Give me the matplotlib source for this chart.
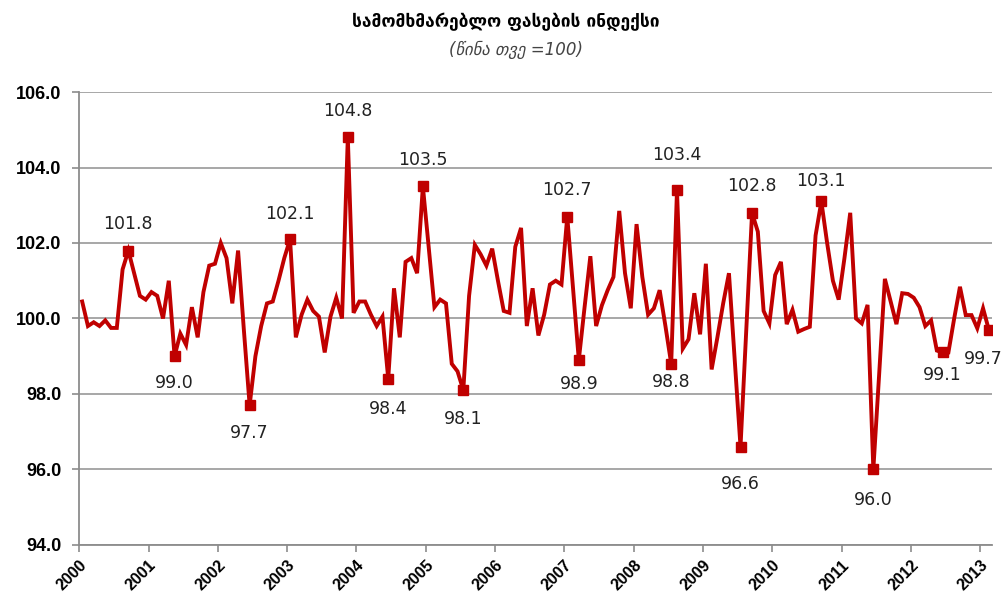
import matplotlib
matplotlib.use("Agg")
import matplotlib.pyplot as plt

# monthly CPI, previous month = 100, Jan 2000 .. Feb 2013
cpi = [
    100.45, 99.8, 99.9, 99.8, 99.95, 99.75, 99.75, 101.3, 101.8, 101.2,
    100.6, 100.5, 100.7, 100.6, 100.0, 101.0, 99.0, 99.6, 99.3, 100.3,
    99.5, 100.7, 101.4, 101.45, 102.0, 101.6, 100.4, 101.8, 99.7, 97.7,
    99.0, 99.8, 100.4, 100.45, 101.0, 101.6, 102.1, 99.5, 100.1, 100.5,
    100.2, 100.05, 99.1, 100.05, 100.55, 100.0, 104.8, 100.15, 100.45, 100.45,
    100.1, 99.8, 100.05, 98.4, 100.8, 99.5, 101.5, 101.6, 101.2, 103.5,
    101.9, 100.3, 100.5, 100.4, 98.8, 98.6, 98.1, 100.6, 101.95, 101.7,
    101.4, 101.85, 101.0, 100.2, 100.15, 101.9, 102.4, 99.8, 100.8, 99.55,
    100.1, 100.9, 101.0, 100.9, 102.7, 100.8, 98.9, 100.3, 101.65, 99.8,
    100.35, 100.75, 101.1, 102.85, 101.2, 100.27, 102.5, 101.1, 100.1, 100.27,
    100.75, 99.8, 98.8, 103.4, 99.2, 99.45, 100.67, 99.58, 101.45, 98.65,
    99.5, 100.4, 101.2, 98.9, 96.6, 99.7, 102.8, 102.3, 100.2, 99.87,
    101.15, 101.5, 99.85, 100.23, 99.65, 99.72, 99.78, 102.2, 103.1, 102.0,
    101.0, 100.5, 101.6, 102.8, 100.0, 99.87, 100.36, 96.0, 98.5, 101.05,
    100.45, 99.85, 100.67, 100.65, 100.55, 100.3, 99.8, 99.95, 99.15, 99.1,
    99.1, 100.0, 100.84, 100.09, 100.09, 99.74, 100.27, 99.7,
]
years = [str(y) for y in range(2000, 2014)]

# months that carry a marker and a value label
peaks = [8, 36, 46, 59, 84, 103, 116, 128]
troughs = [16, 29, 53, 66, 86, 102, 114, 137, 149, 157]

red = '#C00000'
months = list(range(len(cpi)))

fig = plt.figure(figsize=(10.06, 5.99), dpi=100)
ax = fig.add_axes([0.0788, 0.0902, 0.907, 0.7562])

ax.plot(months, cpi, color=red, lw=2.8, solid_joinstyle='miter', zorder=3)
marked = sorted(peaks + troughs)
ax.plot(marked, [cpi[i] for i in marked], ls='none', marker='s', ms=7.5,
        color=red, zorder=4)

# label offsets in points (peaks up, troughs down)
up_off = {8: (0, 19), 36: (0, 18), 46: (0, 19), 59: (0, 19), 84: (0, 19),
          103: (0, 25), 116: (0, 19), 128: (0, 15)}
dn_off = {16: (0, -19), 29: (0, -20), 53: (0, -22), 66: (0, -21), 86: (0, -17),
          102: (0, -13), 114: (0, -27), 137: (0, -22), 149: (0, -16),
          157: (-4, -21)}
for i, off in list(up_off.items()) + list(dn_off.items()):
    ax.annotate(f'{cpi[i]:.1f}', (i, cpi[i]), xytext=off,
                textcoords='offset points', ha='center', va='center',
                fontsize=12.5, color='#222222', annotation_clip=False)

ax.set_xlim(-0.5, len(cpi) - 0.5)
ax.set_ylim(94, 106)
ax.set_yticks([94, 96, 98, 100, 102, 104, 106])
ax.set_yticklabels([f'{v:.1f}' for v in ax.get_yticks()],
                   fontfamily='Liberation Sans', fontweight='bold', fontsize=13)
ax.set_xticks([-0.5 + 12 * k for k in range(len(years))])
ax.set_xticklabels(years, rotation=45, ha='right', rotation_mode='anchor',
                   fontfamily='Liberation Sans', fontweight='bold', fontsize=11.5)

ax.grid(axis='y', color='#A0A0A0', lw=1.3)
ax.set_axisbelow(True)
for s in ['top', 'right']:
    ax.spines[s].set_visible(False)
for s in ['left', 'bottom']:
    ax.spines[s].set_color('#8C8C8C')
    ax.spines[s].set_linewidth(1.3)
ax.tick_params(axis='both', direction='out', color='#8C8C8C', width=1.2,
               length=5, pad=4)
ax.tick_params(axis='y', pad=8)

fig.text(0.503, 0.963, 'სამომხმარებლო ფასების ინდექსი', ha='center', va='center',
         fontsize=12.5, fontweight='bold', family='DejaVu Sans')
fig.text(0.513, 0.916, '(წინა თვე =100)', ha='center', va='center',
         fontsize=12, style='italic', color='#444444', family='DejaVu Sans')

fig.savefig('out.png', dpi=100)
